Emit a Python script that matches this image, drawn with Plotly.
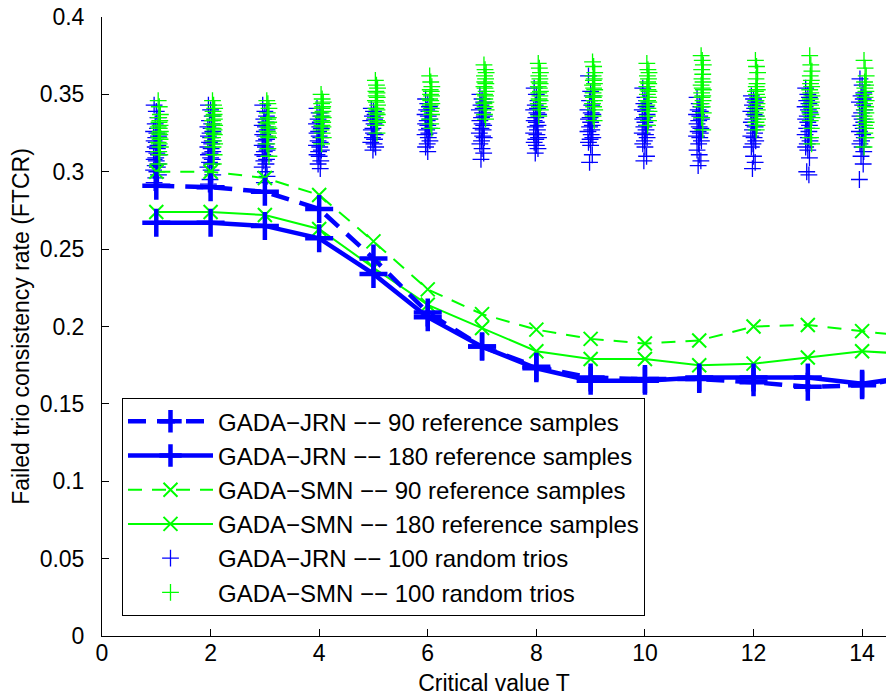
import plotly.graph_objects as go

# ---------------- data ----------------
T_line = [1, 2, 3, 4, 5, 6, 7, 8, 9, 10, 11, 12, 13, 14, 15]
jrn_90 = [0.291, 0.290, 0.287, 0.276, 0.244, 0.209, 0.187, 0.174, 0.167, 0.166, 0.166, 0.164, 0.161, 0.162, 0.168]
jrn_180 = [0.267, 0.267, 0.265, 0.257, 0.234, 0.206, 0.187, 0.173, 0.165, 0.165, 0.167, 0.167, 0.167, 0.163, 0.168]
smn_90 = [0.300, 0.300, 0.296, 0.285, 0.255, 0.224, 0.208, 0.198, 0.192, 0.189, 0.191, 0.200, 0.201, 0.197, 0.193]
smn_180 = [0.274, 0.274, 0.272, 0.263, 0.238, 0.214, 0.199, 0.184, 0.179, 0.179, 0.175, 0.176, 0.180, 0.184, 0.182]

T_trio = [1, 2, 3, 4, 5, 6, 7, 8, 9, 10, 11, 12, 13, 14]
jrn_trios = [
    [0.343, 0.339, 0.335, 0.331, 0.328, 0.326, 0.325, 0.323, 0.322, 0.320, 0.319, 0.317, 0.316, 0.315, 0.313, 0.312, 0.311, 0.309, 0.308, 0.307, 0.305, 0.304, 0.303, 0.301, 0.300, 0.298, 0.296, 0.293, 0.290],
    [0.343, 0.340, 0.336, 0.333, 0.331, 0.329, 0.328, 0.326, 0.325, 0.323, 0.322, 0.320, 0.319, 0.318, 0.316, 0.315, 0.313, 0.312, 0.311, 0.309, 0.308, 0.306, 0.305, 0.303, 0.301, 0.298, 0.295, 0.292],
    [0.343, 0.339, 0.336, 0.334, 0.332, 0.330, 0.329, 0.327, 0.326, 0.324, 0.323, 0.321, 0.320, 0.318, 0.317, 0.316, 0.314, 0.313, 0.311, 0.310, 0.308, 0.307, 0.305, 0.303, 0.300, 0.297, 0.293],
    [0.341, 0.338, 0.336, 0.334, 0.332, 0.331, 0.329, 0.328, 0.326, 0.325, 0.323, 0.322, 0.320, 0.319, 0.317, 0.316, 0.314, 0.313, 0.311, 0.310, 0.307, 0.305, 0.302],
    [0.341, 0.339, 0.337, 0.336, 0.334, 0.333, 0.331, 0.330, 0.328, 0.327, 0.325, 0.324, 0.322, 0.321, 0.319, 0.318, 0.316, 0.314],
    [0.347, 0.344, 0.342, 0.340, 0.339, 0.337, 0.336, 0.334, 0.333, 0.331, 0.330, 0.328, 0.327, 0.325, 0.324, 0.322, 0.320, 0.318, 0.316, 0.313],
    [0.350, 0.347, 0.345, 0.343, 0.341, 0.340, 0.338, 0.336, 0.335, 0.333, 0.331, 0.330, 0.328, 0.327, 0.325, 0.323, 0.322, 0.320, 0.318, 0.315, 0.312, 0.308],
    [0.354, 0.350, 0.346, 0.343, 0.341, 0.340, 0.338, 0.337, 0.335, 0.333, 0.332, 0.330, 0.329, 0.327, 0.325, 0.324, 0.322, 0.321, 0.319, 0.317, 0.315, 0.312],
    [0.362, 0.352, 0.349, 0.346, 0.343, 0.340, 0.338, 0.337, 0.335, 0.334, 0.332, 0.330, 0.329, 0.327, 0.326, 0.324, 0.322, 0.321, 0.319, 0.317, 0.311, 0.306],
    [0.354, 0.348, 0.346, 0.344, 0.342, 0.340, 0.339, 0.337, 0.335, 0.334, 0.332, 0.330, 0.329, 0.327, 0.325, 0.324, 0.322, 0.320, 0.318, 0.316, 0.310, 0.307],
    [0.348, 0.344, 0.342, 0.340, 0.339, 0.337, 0.336, 0.334, 0.333, 0.331, 0.329, 0.328, 0.326, 0.325, 0.323, 0.322, 0.320, 0.318, 0.314, 0.311, 0.307, 0.304],
    [0.349, 0.347, 0.345, 0.343, 0.341, 0.339, 0.337, 0.336, 0.334, 0.332, 0.330, 0.329, 0.327, 0.325, 0.323, 0.322, 0.320, 0.318, 0.316, 0.310, 0.306, 0.302],
    [0.354, 0.350, 0.348, 0.346, 0.344, 0.342, 0.340, 0.338, 0.336, 0.334, 0.332, 0.330, 0.328, 0.326, 0.324, 0.322, 0.320, 0.318, 0.316, 0.314, 0.309, 0.300, 0.298],
    [0.360, 0.356, 0.351, 0.349, 0.347, 0.345, 0.343, 0.340, 0.338, 0.336, 0.334, 0.332, 0.330, 0.328, 0.326, 0.324, 0.322, 0.320, 0.318, 0.316, 0.313, 0.310, 0.305, 0.295],
]
smn_trios = [
    [0.346, 0.342, 0.337, 0.335, 0.333, 0.332, 0.330, 0.329, 0.328, 0.326, 0.325, 0.324, 0.322, 0.321, 0.319, 0.318, 0.316, 0.313, 0.311, 0.305],
    [0.346, 0.343, 0.341, 0.339, 0.337, 0.336, 0.334, 0.333, 0.331, 0.330, 0.328, 0.327, 0.325, 0.324, 0.322, 0.320, 0.318, 0.316, 0.311, 0.305],
    [0.346, 0.344, 0.341, 0.338, 0.335, 0.334, 0.332, 0.331, 0.329, 0.328, 0.326, 0.325, 0.323, 0.322, 0.318, 0.315, 0.310],
    [0.350, 0.347, 0.345, 0.344, 0.342, 0.341, 0.339, 0.338, 0.336, 0.335, 0.333, 0.332, 0.330, 0.329, 0.327, 0.325, 0.322, 0.318],
    [0.359, 0.356, 0.354, 0.352, 0.351, 0.349, 0.348, 0.346, 0.345, 0.343, 0.341, 0.340, 0.338, 0.337, 0.335, 0.333, 0.332, 0.330, 0.325],
    [0.362, 0.358, 0.355, 0.353, 0.352, 0.350, 0.349, 0.347, 0.346, 0.344, 0.343, 0.341, 0.339, 0.337, 0.334, 0.331, 0.328],
    [0.369, 0.366, 0.364, 0.362, 0.360, 0.358, 0.357, 0.355, 0.354, 0.352, 0.350, 0.349, 0.347, 0.345, 0.344, 0.342, 0.340, 0.337, 0.334],
    [0.370, 0.367, 0.364, 0.362, 0.360, 0.358, 0.357, 0.355, 0.354, 0.352, 0.351, 0.349, 0.347, 0.346, 0.344, 0.342, 0.340, 0.336],
    [0.371, 0.368, 0.364, 0.362, 0.360, 0.359, 0.357, 0.356, 0.354, 0.353, 0.351, 0.349, 0.348, 0.346, 0.344, 0.342, 0.340, 0.336, 0.333],
    [0.370, 0.366, 0.364, 0.362, 0.360, 0.358, 0.357, 0.355, 0.353, 0.352, 0.350, 0.348, 0.346, 0.345, 0.343, 0.341, 0.339, 0.336, 0.333, 0.330],
    [0.375, 0.372, 0.369, 0.366, 0.363, 0.360, 0.358, 0.356, 0.354, 0.353, 0.351, 0.349, 0.348, 0.346, 0.344, 0.342, 0.338, 0.335, 0.327],
    [0.372, 0.368, 0.364, 0.360, 0.357, 0.355, 0.353, 0.352, 0.350, 0.348, 0.346, 0.344, 0.342, 0.340, 0.338, 0.336, 0.334, 0.332, 0.330, 0.327],
    [0.375, 0.369, 0.365, 0.362, 0.359, 0.357, 0.355, 0.353, 0.351, 0.349, 0.347, 0.345, 0.343, 0.341, 0.339, 0.337, 0.335, 0.333, 0.328, 0.322, 0.318],
    [0.372, 0.367, 0.362, 0.358, 0.356, 0.354, 0.352, 0.350, 0.348, 0.346, 0.344, 0.342, 0.340, 0.338, 0.336, 0.334, 0.332, 0.330, 0.328, 0.325, 0.322, 0.316],
]

labels = [
    "GADA\u2212JRN \u2212\u2212 90 reference samples",
    "GADA\u2212JRN \u2212\u2212 180 reference samples",
    "GADA\u2212SMN \u2212\u2212 90 reference samples",
    "GADA\u2212SMN \u2212\u2212 180 reference samples",
    "GADA\u2212JRN \u2212\u2212 100 random trios",
    "GADA\u2212SMN \u2212\u2212 100 random trios",
]

# small horizontal spread of the random-trio markers around each T
jrn_jitter = [-0.04, 0.0, 0.03, -0.02, 0.02, -0.05, 0.01, 0.04, -0.01]
smn_jitter = [0.035, 0.055, 0.075, 0.045, 0.065, 0.05, 0.07]

BLUE = "#0000FF"
GREEN = "#00FF00"
FONT = "Liberation Sans, Arial, Helvetica, sans-serif"


def flatten(ts, vals, jit):
    xs, ys = [], []
    for t, col in zip(ts, vals):
        for i, v in enumerate(col):
            xs.append(t + jit[i % len(jit)])
            ys.append(v)
    return xs, ys


fig = go.Figure()

jx, jy = flatten(T_trio, jrn_trios, jrn_jitter)
sx, sy = flatten(T_trio, smn_trios, smn_jitter)

fig.add_trace(go.Scatter(
    x=jx, y=jy, mode="markers", name=labels[4], legendrank=5, legendgroup="g5",
    marker=dict(symbol="cross-thin", size=12, line=dict(color=BLUE, width=1.3), color=BLUE),
))
fig.add_trace(go.Scatter(
    x=sx, y=sy, mode="markers", name=labels[5], legendrank=6, legendgroup="g6",
    marker=dict(symbol="cross-thin", size=12, line=dict(color=GREEN, width=1.3), color=GREEN),
))

fig.add_trace(go.Scatter(
    x=T_line, y=smn_90, mode="lines+markers", name=labels[2], legendrank=3, legendgroup="g3",
    line=dict(color=GREEN, width=2, dash="14px,10px"),
    marker=dict(symbol="x-thin", size=14, line=dict(color=GREEN, width=2), color=GREEN),
))
fig.add_trace(go.Scatter(
    x=T_line, y=smn_180, mode="lines+markers", name=labels[3], legendrank=4, legendgroup="g4",
    line=dict(color=GREEN, width=2),
    marker=dict(symbol="x-thin", size=14, line=dict(color=GREEN, width=2), color=GREEN),
))
fig.add_trace(go.Scatter(
    x=T_line, y=jrn_90, mode="lines+markers", name=labels[0], legendrank=1, legendgroup="g1",
    line=dict(color=BLUE, width=4.5, dash="18px,11px"),
    marker=dict(symbol="cross-thin", size=20, line=dict(color=BLUE, width=4.5), color=BLUE),
))
fig.add_trace(go.Scatter(
    x=T_line, y=jrn_180, mode="lines+markers", name=labels[1], legendrank=2, legendgroup="g2",
    line=dict(color=BLUE, width=4.5),
    marker=dict(symbol="cross-thin", size=20, line=dict(color=BLUE, width=4.5), color=BLUE),
))

axis_common = dict(
    showline=True, linecolor="black", linewidth=1, mirror=False,
    ticks="inside", ticklen=7, tickcolor="black", tickwidth=1,
    showgrid=False, zeroline=False,
    tickfont=dict(family=FONT, size=23, color="black"),
)

fig.update_layout(
    width=886, height=700,
    margin=dict(l=102, r=0, t=17, b=64),
    paper_bgcolor="white", plot_bgcolor="white",
    font=dict(family=FONT, size=23, color="black"),
    showlegend=True,
    legend=dict(
        x=0.0255, y=0.032, xanchor="left", yanchor="bottom",
        bgcolor="white", bordercolor="black", borderwidth=1,
        font=dict(family=FONT, size=24, color="black"),
        itemwidth=85, traceorder="grouped", tracegroupgap=0,
    ),
    xaxis=dict(
        range=[0, 14.44], tickvals=[0, 2, 4, 6, 8, 10, 12, 14],
        title=dict(text="Critical value T", font=dict(family=FONT, size=23), standoff=10),
        ticklabelstandoff=-4,
        **axis_common,
    ),
    yaxis=dict(
        range=[0, 0.4], tickvals=[0, 0.05, 0.1, 0.15, 0.2, 0.25, 0.3, 0.35, 0.4],
        ticktext=["0", "0.05", "0.1", "0.15", "0.2", "0.25", "0.3", "0.35", "0.4"],
        title=dict(text="Failed trio consistency rate (FTCR)", font=dict(family=FONT, size=23), standoff=3),
        ticklabelstandoff=12,
        **axis_common,
    ),
)

fig.write_html("out.html")
